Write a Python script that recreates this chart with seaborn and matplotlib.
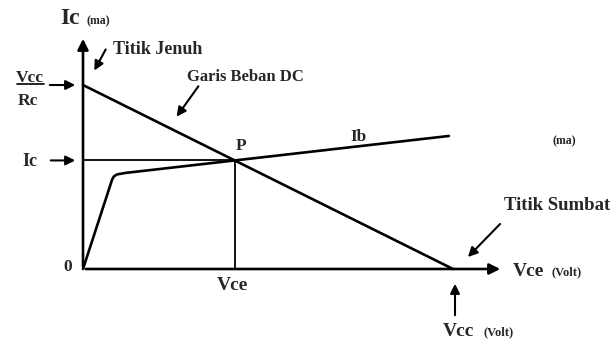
import matplotlib
matplotlib.use('Agg')
import matplotlib.pyplot as plt
import seaborn as sns
import pandas as pd

# Nilai rangkaian (satuan bebas)
vcc = 10.0          # Vce pada titik sumbat
ic_sat = 10.0       # Vcc/Rc pada titik jenuh
vce_q = 4.1         # titik kerja P
ic_q = 5.9

# Kurva karakteristik Ib
ib_vce = [0.0, 0.79, 0.84, 0.92, 1.14, 4.1, 9.89]
ib_ic = [0.0, 4.88, 5.04, 5.14, 5.22, 5.9, 7.23]

# Garis beban DC
load_vce = [0.0, vcc]
load_ic = [ic_sat, 0.0]

sns.set_style('white')
plt.rcParams['font.family'] = ['Liberation Serif', 'DejaVu Serif']
plt.rcParams['font.weight'] = 'bold'

W, H = 612, 340
fig = plt.figure(figsize=(W / 100, H / 100), dpi=100)
ax = fig.add_axes([0, 0, 1, 1])

# skala: titik asal di piksel (83, 269)
x0, y0 = 83, 269
sx, sy = 37.0, 18.4
ax.set_xlim(-x0 / sx, (W - x0) / sx)
ax.set_ylim(-(H - y0) / sy, y0 / sy)
ax.axis('off')


def px(x, y):
    # posisi piksel -> koordinat data (hanya untuk teks/panah)
    return ((x - x0) / sx, (y0 - y) / sy)


lw = 1.9
df_load = pd.DataFrame({'vce': load_vce, 'ic': load_ic})
df_ib = pd.DataFrame({'vce': ib_vce, 'ic': ib_ic})
sns.lineplot(data=df_load, x='vce', y='ic', color='black', lw=lw, ax=ax,
             sort=False, estimator=None)
sns.lineplot(data=df_ib, x='vce', y='ic', color='black', lw=lw, ax=ax,
             sort=False, estimator=None)

# garis bantu Ic dan Vce
ax.plot([0, vce_q], [ic_q, ic_q], color='black', lw=1.3)
ax.plot([vce_q, vce_q], [0, ic_q], color='black', lw=1.3)

# sumbu dengan panah
arrow_ax = dict(arrowstyle='-|>', color='black', lw=lw, mutation_scale=16)
ax.annotate('', xy=(0, px(0, 36)[1]), xytext=(0, 0), arrowprops=arrow_ax)
ax.annotate('', xy=(px(503, 0)[0], 0), xytext=(0, 0), arrowprops=arrow_ax)

arrow = dict(arrowstyle='-|>', color='black', lw=1.5, mutation_scale=14)
ax.annotate('', xy=(px(78, 0)[0], ic_sat), xytext=(px(47, 0)[0], ic_sat), arrowprops=arrow)
ax.annotate('', xy=(px(78, 0)[0], ic_q), xytext=(px(48, 0)[0], ic_q), arrowprops=arrow)
ax.annotate('', xy=px(93, 73), xytext=px(107, 47), arrowprops=arrow)
ax.annotate('', xy=px(175, 119), xytext=px(200, 84), arrowprops=arrow)
ax.annotate('', xy=px(466, 259), xytext=px(502, 222), arrowprops=arrow)
ax.annotate('', xy=px(455, 281), xytext=px(455, 318), arrowprops=arrow)

# teks
ax.text(*px(60, 18), 'Ic', fontsize=17, ha='left', va='center')
ax.text(*px(86, 21), '(ma)', fontsize=8.5, ha='left', va='center')
ax.text(*px(113, 50), 'Titik Jenuh', fontsize=13, ha='left', va='center')
ax.text(*px(187, 77), 'Garis Beban DC', fontsize=12, ha='left', va='center')
ax.text(*px(30, 78), 'Vcc', fontsize=12.5, ha='center', va='center')
ax.plot([px(17, 0)[0], px(44, 0)[0]], [px(0, 84)[1]] * 2, color='black', lw=1.2)
ax.text(*px(28, 101), 'Rc', fontsize=12.5, ha='center', va='center')
ax.text(*px(30, 162), 'Ic', fontsize=13, ha='center', va='center')
ax.text(*px(68, 267), '0', fontsize=12.5, ha='center', va='center')
ax.text(*px(241, 146), 'P', fontsize=12.5, ha='center', va='center')
ax.text(*px(359, 137), 'Ib', fontsize=12.5, ha='center', va='center')
ax.text(*px(564, 141), '(ma)', fontsize=8.5, ha='center', va='center')
ax.text(*px(232, 285), 'Vce', fontsize=14, ha='center', va='center')
ax.text(*px(504, 205), 'Titik Sumbat', fontsize=13.5, ha='left', va='center')
ax.text(*px(513, 271), 'Vce', fontsize=14, ha='left', va='center')
ax.text(*px(552, 272), '(Volt)', fontsize=9, ha='left', va='center')
ax.text(*px(443, 331), 'Vcc', fontsize=14, ha='left', va='center')
ax.text(*px(484, 332), '(Volt)', fontsize=9, ha='left', va='center')

fig.savefig('out.png', dpi=100, facecolor='white')
